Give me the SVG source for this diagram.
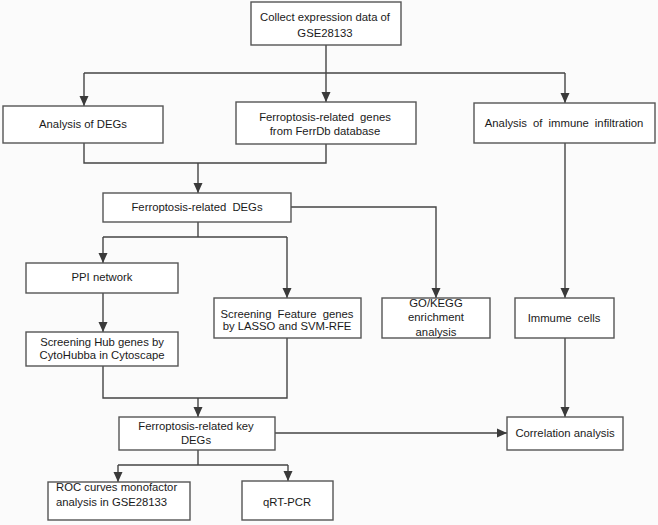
<svg xmlns="http://www.w3.org/2000/svg" width="658" height="525" viewBox="0 0 658 525">
<style>
.box{fill:#ffffff;stroke:#555555;stroke-width:1.4}
.t{font-family:"Liberation Sans",Arial,sans-serif;font-size:11.3px;fill:#1a1a1a;text-anchor:middle}
.tl{text-anchor:start}
.ws{word-spacing:3px}
.c{fill:none;stroke:#444444;stroke-width:1.4}
.a{marker-end:url(#arr)}
</style>
<defs>
<marker id="arr" markerUnits="userSpaceOnUse" markerWidth="10" markerHeight="12" viewBox="0 0 10 12" refX="10" refY="6" orient="auto">
<path d="M0,1.5 L10,6 L0,10.5 Z" fill="#3a3a3a"/>
</marker>
</defs>
<rect x="0" y="0" width="658" height="525" fill="#fbfbfb"/>
<g id="connectors">
<path class="c a" d="M326,45 V102"/>
<path class="c" d="M84,73 H565"/>
<path class="c a" d="M84,73 V106"/>
<path class="c a" d="M565,73 V103"/>
<path class="c" d="M84,143 V163 H326 V144"/>
<path class="c a" d="M198,163 V193"/>
<path class="c a" d="M291,207 H436 V298"/>
<path class="c" d="M198,222 V237"/>
<path class="c" d="M103,237 H287"/>
<path class="c a" d="M103,237 V263"/>
<path class="c a" d="M287,237 V298"/>
<path class="c a" d="M103,293 V332"/>
<path class="c a" d="M565,143 V298"/>
<path class="c" d="M103,366 V398 H287 V338"/>
<path class="c a" d="M198,398 V417"/>
<path class="c a" d="M565,338 V417"/>
<path class="c a" d="M275,433 H507"/>
<path class="c" d="M198,450 V465"/>
<path class="c" d="M118,465 H288"/>
<path class="c a" d="M118,465 V482"/>
<path class="c a" d="M288,465 V481"/>
</g>
<g id="collect">
<rect class="box" x="251" y="2" width="150" height="43"/>
<text class="t" x="325" y="21">Collect expression data of</text>
<text class="t" x="325" y="37">GSE28133</text>
</g>
<g id="degs">
<rect class="box" x="3" y="106" width="160" height="37"/>
<text class="t" x="83" y="128">Analysis of DEGs</text>
</g>
<g id="ferrdb">
<rect class="box" x="236" y="102" width="180" height="42"/>
<text class="t ws" x="325" y="121">Ferroptosis-related genes</text>
<text class="t" x="325" y="135">from FerrDb database</text>
</g>
<g id="immune">
<rect class="box" x="474" y="103" width="181" height="40"/>
<text class="t ws" x="564" y="127">Analysis of immune infiltration</text>
</g>
<g id="ferrdegs">
<rect class="box" x="103" y="193" width="188" height="29"/>
<text class="t ws" x="197" y="211">Ferroptosis-related DEGs</text>
</g>
<g id="ppi">
<rect class="box" x="26" y="263" width="152" height="30"/>
<text class="t" x="102" y="281">PPI network</text>
</g>
<g id="feature">
<rect class="box" x="214" y="298" width="147" height="40"/>
<text class="t ws" x="287" y="318">Screening Feature genes</text>
<text class="t" x="287" y="330">by LASSO and SVM-RFE</text>
</g>
<g id="gokegg">
<rect class="box" x="382" y="298" width="108" height="40"/>
<text class="t" x="436" y="307">GO/KEGG</text>
<text class="t" x="436" y="321">enrichment</text>
<text class="t" x="436" y="336">analysis</text>
</g>
<g id="immunecells">
<rect class="box" x="515" y="298" width="99" height="40"/>
<text class="t ws" x="564" y="322">Immume cells</text>
</g>
<g id="hub">
<rect class="box" x="26" y="332" width="152" height="34"/>
<text class="t" x="102" y="346">Screening Hub genes by</text>
<text class="t" x="102" y="359">CytoHubba in Cytoscape</text>
</g>
<g id="keydegs">
<rect class="box" x="119" y="417" width="156" height="33"/>
<text class="t" x="196" y="430">Ferroptosis-related key</text>
<text class="t" x="196" y="444">DEGs</text>
</g>
<g id="correlation">
<rect class="box" x="507" y="417" width="116" height="33"/>
<text class="t" x="565" y="437">Correlation analysis</text>
</g>
<g id="roc">
<rect class="box" x="48" y="482" width="142" height="38"/>
<text class="t tl" x="56" y="491">ROC curves monofactor</text>
<text class="t tl" x="56" y="506">analysis in GSE28133</text>
</g>
<g id="qrtpcr">
<rect class="box" x="242" y="481" width="91" height="39"/>
<text class="t" x="287" y="506">qRT-PCR</text>
</g>
</svg>
